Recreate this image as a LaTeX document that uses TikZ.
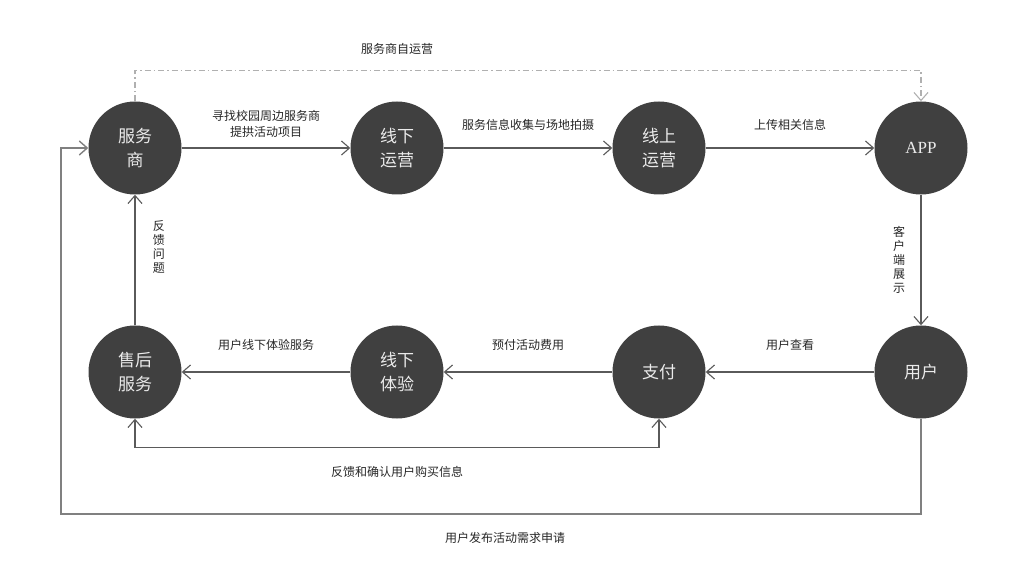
\documentclass[tikz,border=0pt]{standalone}
\usepackage{fontspec}
\setmainfont{Noto Sans CJK SC}
\newfontfamily\appfont{Liberation Serif}
\usetikzlibrary{arrows.meta}
\definecolor{nodegray}{HTML}{404040}
\definecolor{linegray}{HTML}{5A5A5A}
\definecolor{dashgray}{HTML}{B0B0B0}
\begin{document}
\begin{tikzpicture}[x=1pt,y=-1pt, >={Straight Barb[length=8pt,width=14pt]},
    stage/.style={circle, fill=nodegray, minimum size=93pt, inner sep=0pt, text=white!92!black, align=center, font=\fontsize{17}{24}\selectfont},
    flow/.style={draw=linegray, line width=1.1pt, ->},
    lbl/.style={font=\fontsize{12}{16}\selectfont, text=black!85, align=center},
    vlbl/.style={font=\fontsize{12}{14}\selectfont, text=black!85, align=center}]
    \useasboundingbox (0,0) rectangle (1023,585);
    \node[stage] (svc) at (135,148) {服务\\商};
    \node[stage] (offline) at (397,148) {线下\\运营};
    \node[stage] (online) at (659,148) {线上\\运营};
    \node[stage] (app) at (921,148) {\appfont APP};
    \node[stage] (aftersale) at (135,372) {售后\\服务};
    \node[stage] (experience) at (397,372) {线下\\体验};
    \node[stage] (pay) at (659,372) {支付};
    \node[stage] (user) at (921,372) {用户};
    \draw[flow] (svc)--node[lbl, above=7pt] (l1) {寻找校园周边服务商\\提拱活动项目}(offline);
    \draw[flow] (offline)--node[lbl, above=14pt] (l2) {服务信息收集与场地拍摄}(online);
    \draw[flow] (online)--node[lbl, above=14pt] (l3) {上传相关信息}(app);
    \draw[flow] (app)--node[vlbl, left=12pt] (l4) {客\\户\\端\\展\\示}(user);
    \draw[flow] (user)--node[lbl, above=18pt] (l5) {用户查看}(pay);
    \draw[flow] (pay)--node[lbl, above=18pt] (l6) {预付活动费用}(experience);
    \draw[flow] (experience)--node[lbl, above=18pt] (l7) {用户线下体验服务}(aftersale);
    \draw[flow] (aftersale)--node[vlbl, right=14pt, pos=0.6] (l8) {反\\馈\\问\\题}(svc);
    \draw[flow, <->] (pay.south) -- ++(0,29) -| (aftersale.south);
    \node[lbl] (l9) at (397,472) {反馈和确认用户购买信息};
    \coordinate (outerbl) at (61,514);
    \draw[flow, draw=black!50, line width=1.4pt] (user.south) |- (outerbl) |- (svc.west);
    \node[lbl] (l10) at (505,538) {用户发布活动需求申请};
    \draw[->, draw=dashgray, line width=1.1pt, dash pattern=on 6pt off 3pt on 1.5pt off 3pt] (svc.north) -- ++(0,-31) -| (app.north);
    \node[lbl] (l11) at (397,49) {服务商自运营};
\end{tikzpicture}
\end{document}
